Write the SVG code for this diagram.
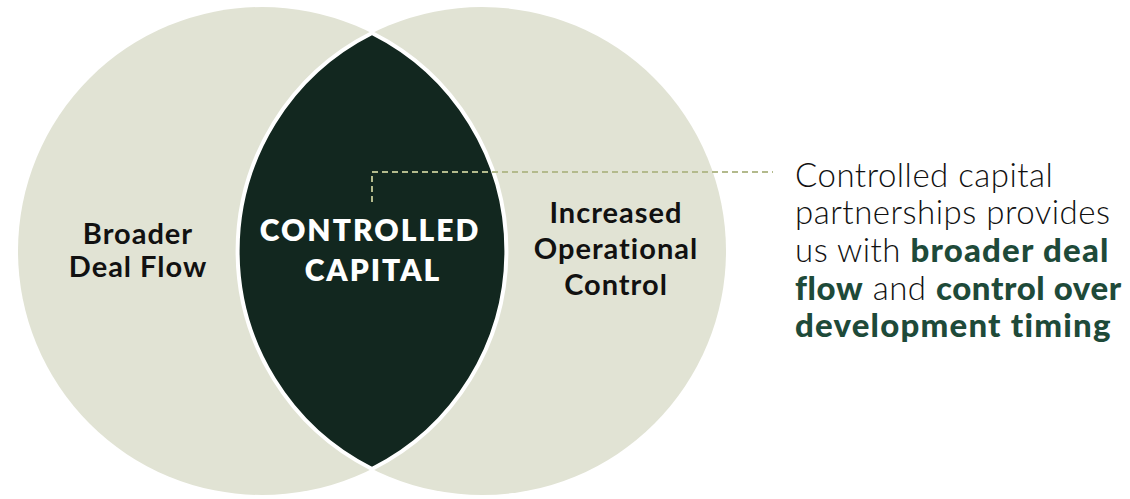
<svg xmlns="http://www.w3.org/2000/svg" width="1130" height="499" viewBox="0 0 1130 499">
<style>
.circ{fill:#E1E3D4}
.lens{fill:#12271F;stroke:#FFFFFF;stroke-width:4;stroke-linejoin:miter}
.lbl{font-family:Lato,"Noto Sans","Liberation Sans",sans-serif;font-weight:700;font-size:29px;fill:#111111;text-anchor:middle;letter-spacing:1px}
.center{font-family:Lato,"Noto Sans","Liberation Sans",sans-serif;font-weight:800;font-size:30px;fill:#FFFFFF;text-anchor:middle;letter-spacing:2px}
.desc{font-family:Lato,"Noto Sans","Liberation Sans",sans-serif;font-weight:300;font-size:33px;fill:#111111;letter-spacing:0.5px}
.hl{font-weight:900;fill:#1E4A39;letter-spacing:1.2px}
.tight{letter-spacing:0.6px}
.dash{fill:none;stroke:#B3BA8C;stroke-width:2;stroke-dasharray:6 4}
</style>
<rect width="1130" height="499" fill="#FFFFFF"/>
<g id="circle-left"><circle class="circ" cx="262" cy="251" r="244"/></g>
<g id="circle-right"><circle class="circ" cx="482" cy="251" r="244"/></g>
<g id="intersection">
<path class="lens" d="M372,33 A244,244 0 0 1 372,469 A244,244 0 0 1 372,33 Z"/>
<text class="center" x="370" y="241">CONTROLLED</text>
<text class="center" x="373" y="281">CAPITAL</text>
</g>
<g id="label-left">
<text class="lbl" x="138" y="244">Broader</text>
<text class="lbl" x="138" y="277">Deal Flow</text>
</g>
<g id="label-right">
<text class="lbl" x="616" y="223">Increased</text>
<text class="lbl" x="616" y="259">Operational</text>
<text class="lbl" x="616" y="295">Control</text>
</g>
<g id="connectors">
<path class="dash" d="M372,202 V172 H773"/>
</g>
<g id="description">
<text class="desc" x="795" y="187">Controlled capital</text>
<text class="desc" x="795" y="224">partnerships provides</text>
<text class="desc" x="795" y="262">us with <tspan class="hl">broader deal</tspan></text>
<text class="desc" x="795" y="300"><tspan class="hl tight">flow</tspan> and <tspan class="hl tight">control over</tspan></text>
<text class="desc" x="795" y="337"><tspan class="hl">development timing</tspan></text>
</g>
</svg>
